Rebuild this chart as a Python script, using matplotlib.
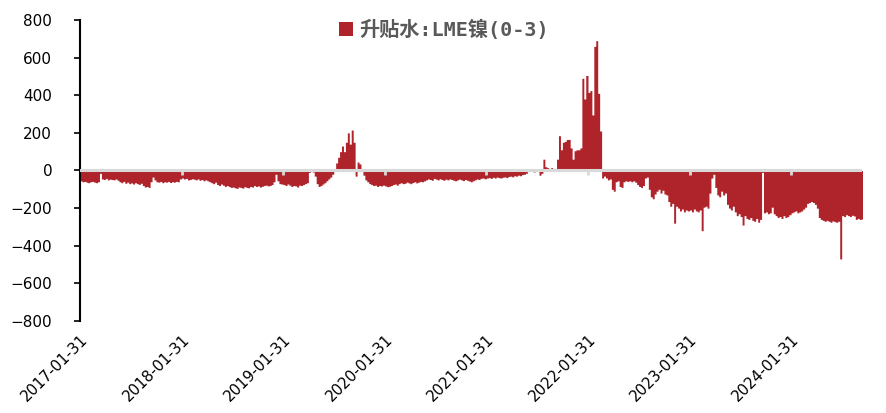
import matplotlib
matplotlib.use("Agg")
import matplotlib.pyplot as plt
import numpy as np
import pandas as pd

plt.rcParams['font.family'] = ['Noto Sans CJK SC', 'DejaVu Sans']

# Weekly values of LME nickel 0-3 contango/backwardation (USD/t), one list per year (from Jan 31)
v2017 = [-55, -60, -58, -62, -65, -60, -58, -62, -65, -60, -15,
         -45, -48, -42, -50, -46, -48, -50, -45, -52,
         -60, -65, -58, -68, -62, -70, -66, -72, -65, -70, -74, -68,
         -80, -88, -85, -90, -60, -35, -50,
         -60, -62, -58, -65, -60, -62, -58, -64, -60, -62, -58, -60, -45]
v2018 = [-40, -45, -42, -50, -48, -44, -46, -50, -45, -52, -48, -55, -50,
         -55, -60, -65, -70, -62, -75, -80, -72, -78, -85, -80,
         -85, -90, -88, -92, -95, -88, -90, -94, -86, -90, -92, -85, -88, -80, -85, -82, -88, -84, -80, -78, -82, -80, -75,
         -60, -20, -55, -70, -72]
v2019 = [-75, -80, -72, -78, -85, -80, -82, -88, -78, -80, -75, -70, -65,
         -10, -5, -8,
         -30, -70, -85, -80, -72, -65, -55, -45, -35, -20, -5,
         40, 70, 100, 130, 100, 150, 200, 140, 215, 150,
         -30, 45, 35, 0,
         -25, -50, -60, -70, -75, -80, -78, -85, -80, -82, -78]
v2020 = [-82, -86, -84, -80, -75, -72, -78, -70,
         -65, -70, -68, -62, -66, -70, -64, -60, -66, -62, -58, -60, -55,
         -50, -45, -48, -52, -42, -46, -50, -44, -48, -52, -46, -50, -45, -48, -52, -55, -50, -46, -50, -54, -48, -52, -56,
         -60, -55, -50, -45, -48, -42, -40, -44]
v2021 = [-40, -38, -42, -36, -40, -35, -38, -40, -36, -34, -38, -32, -30, -34,
         -28, -30, -25, -28, -22, -20, -15,
         5, -5, 8, -8, 5, -3, -25, -15,
         60, 20, 15, 10, 15, 5, 0,
         60, 185, 110, 150, 155, 165, 165, 120, 60, 105, 110, 110, 120, 490, 380, 505]
v2022 = [415, 425, 295, 660, 690, 410, 210, -40,
         -30, -40, -50, -45, -100, -110, -60, -55, -85, -90,
         -60, -55, -58, -55, -60, -55, -62, -75, -85, -90, -80, -40, -35,
         -100, -140, -150, -125, -110, -100, -120, -105, -125,
         -130, -165, -190, -175, -280,
         -190, -200, -215, -205, -220, -210, -215]
v2023 = [-210, -220, -205, -215, -220, -210, -320, -195, -190, -200,
         -120, -40, -20, -90, -130, -140, -110, -130, -120,
         -180, -200, -210, -190, -220, -240, -230, -245, -290,
         -240, -255, -260, -250, -265, -270, -255, -275, -260, -10,
         -225, -220, -230, -225, -195,
         -230, -240, -250, -245, -255, -240, -250, -245, -235]
v2024 = [-225, -220, -215, -225, -220, -215, -205, -195,
         -175, -170, -165, -170, -180, -200,
         -250, -260, -265, -270, -265, -270, -275, -268, -272, -275, -270, -470,
         -240, -245, -235, -240, -245, -238, -242, -260, -255, -260, -258]

years = [2017, 2018, 2019, 2020, 2021, 2022, 2023, 2024]
yearly = [v2017, v2018, v2019, v2020, v2021, v2022, v2023, v2024]

dates = []
values = []
for y, vals in zip(years, yearly):
    dates.extend(pd.date_range(f"{y}-01-31", periods=len(vals), freq="7D"))
    values.extend(vals)
dates = pd.DatetimeIndex(dates)
values = np.array(values, dtype=float)
# step edges: each weekly value holds until the next observation
edge_dates = dates.append(pd.DatetimeIndex([dates[-1] + pd.Timedelta(days=7)]))
edge_values = np.append(values, values[-1])

tick_dates = pd.to_datetime([f"{y}-01-31" for y in years])
tick_labels = [f"{y}-01-31" for y in years]
yticks = [-800, -600, -400, -200, 0, 200, 400, 600, 800]
series_name = "升贴水:LME镍(0-3)"

red = "#AF232A"
gray = "#D9D9D9"

fig = plt.figure(figsize=(8.87, 4.13), dpi=100)
ax = fig.add_axes([0.0902, 0.2228, 0.8816, 0.7288])

ax.fill_between(edge_dates, 0, edge_values, step="post", color=red, linewidth=0,
                label=series_name, zorder=2)
ax.axhline(0, color=gray, linewidth=2.2, zorder=3)
for d in tick_dates[1:]:
    ax.plot([d, d], [0, -22], color=gray, linewidth=2.0, zorder=3, solid_capstyle="butt")

ax.set_xlim(pd.Timestamp("2017-01-31"), pd.Timestamp("2024-10-12"))
ax.set_ylim(-800, 800)
ax.set_yticks(yticks)
ax.set_yticklabels([str(t) if t >= 0 else "\u2212" + str(-t) for t in yticks],
                   fontsize=11, family=["DejaVu Sans"])
ax.set_xticks(tick_dates)
ax.set_xticklabels(tick_labels, rotation=45, ha="right", va="top",
                   rotation_mode="anchor", fontsize=10.8, family=["DejaVu Sans"])
ax.tick_params(axis="x", length=0, pad=8)
ax.tick_params(axis="y", length=4, width=1.2, direction="out", color="black", pad=16)

for s in ["top", "right", "bottom"]:
    ax.spines[s].set_visible(False)
ax.spines["left"].set_linewidth(1.5)
ax.spines["left"].set_color("black")

leg = ax.legend(loc="upper center", bbox_to_anchor=(0.465, 1.06), frameon=False,
                handlelength=0.7, handleheight=0.7, handletextpad=0.3,
                prop={"size": 14.5, "weight": "bold",
                      "family": ["DejaVu Sans Mono", "Noto Sans CJK SC"]})
for t in leg.get_texts():
    t.set_color("#595959")

fig.savefig("out.png", dpi=100)
